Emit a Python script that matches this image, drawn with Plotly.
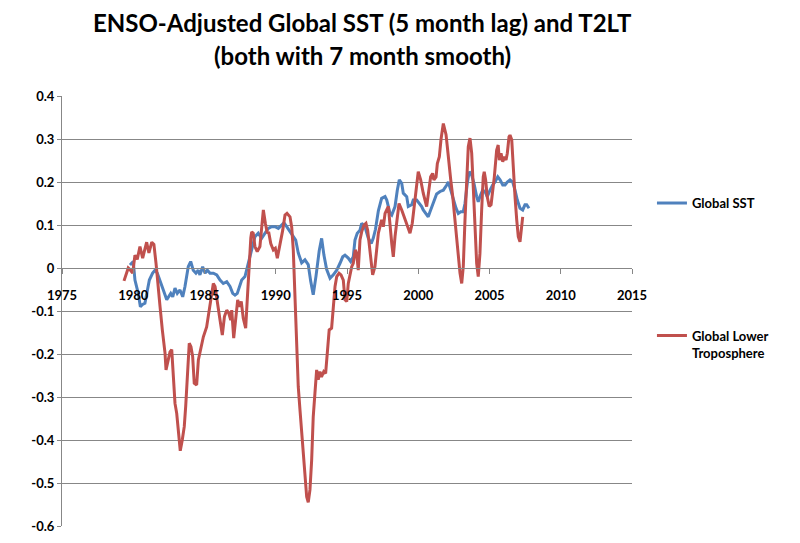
import plotly.graph_objects as go

TITLE_LINE1 = "ENSO-Adjusted Global SST (5 month lag) and T2LT"
TITLE_LINE2 = "(both with 7 month smooth)"

SST_NAME = "Global SST"
T2LT_NAME = "Global Lower<br>Troposphere"

SST_YEARS = [
    1979.77, 1980.00, 1980.12, 1980.35, 1980.50, 1980.65, 1980.82, 1980.94, 1981.13, 1981.36,
    1981.53, 1981.69, 1981.88, 1982.11, 1982.35, 1982.46, 1982.63, 1982.77, 1982.93, 1983.09,
    1983.28, 1983.47, 1983.63, 1983.86, 1984.03, 1984.21, 1984.40, 1984.56, 1984.68, 1984.87,
    1985.04, 1985.20, 1985.39, 1985.62, 1985.86, 1986.09, 1986.32, 1986.56, 1986.79, 1986.98,
    1987.14, 1987.30, 1987.44, 1987.61, 1987.84, 1988.00, 1988.19, 1988.38, 1988.54, 1988.77,
    1989.01, 1989.25, 1989.48, 1989.71, 1989.95, 1990.18, 1990.42, 1990.58, 1990.77, 1991.00,
    1991.23, 1991.40, 1991.58, 1991.82, 1992.05, 1992.28, 1992.45, 1992.63, 1992.82, 1993.05,
    1993.22, 1993.38, 1993.57, 1993.81, 1994.04, 1994.28, 1994.51, 1994.70, 1994.86, 1995.09,
    1995.26, 1995.44, 1995.56, 1995.72, 1995.91, 1996.03, 1996.26, 1996.49, 1996.70, 1996.84,
    1997.00, 1997.20, 1997.43, 1997.67, 1997.79, 1998.02, 1998.14, 1998.37, 1998.53, 1998.67,
    1998.84, 1998.95, 1999.19, 1999.30, 1999.54, 1999.65, 1999.89, 2000.07, 2000.24, 2000.35,
    2000.54, 2000.70, 2000.82, 2001.06, 2001.29, 2001.53, 2001.76, 2002.00, 2002.11, 2002.28,
    2002.46, 2002.65, 2002.81, 2002.98, 2003.16, 2003.28, 2003.44, 2003.58, 2003.75, 2003.91,
    2004.10, 2004.21, 2004.33, 2004.52, 2004.68, 2004.84, 2005.04, 2005.22, 2005.39, 2005.58,
    2005.74, 2005.93, 2006.09, 2006.25, 2006.44, 2006.63, 2006.79, 2006.95, 2007.14, 2007.33,
    2007.49, 2007.61, 2007.77,
]
SST_VALUES = [
    0.007, 0.015, -0.028, -0.059, -0.090, -0.085, -0.082, -0.059, -0.028, -0.012,
    -0.005, -0.012, -0.028, -0.051, -0.074, -0.067, -0.059, -0.067, -0.047, -0.059,
    -0.051, -0.067, -0.043, 0.003, 0.015, -0.005, -0.012, -0.005, -0.016, 0.003,
    -0.012, -0.005, -0.012, -0.012, -0.016, -0.028, -0.036, -0.032, -0.043, -0.059,
    -0.063, -0.059, -0.043, -0.028, -0.020, 0.003, 0.026, 0.057, 0.073, 0.081,
    0.069, 0.081, 0.092, 0.096, 0.096, 0.092, 0.100, 0.105, 0.096, 0.084,
    0.075, 0.065, 0.035, 0.012, 0.019, 0.008, -0.030, -0.062, -0.020, 0.040,
    0.069, 0.030, -0.003, -0.024, -0.016, -0.005, 0.011, 0.026, 0.030, 0.023,
    0.015, 0.026, 0.065, 0.081, 0.088, 0.104, 0.096, 0.070, 0.057, 0.069,
    0.090, 0.133, 0.162, 0.166, 0.158, 0.127, 0.123, 0.143, 0.181, 0.205,
    0.197, 0.174, 0.166, 0.143, 0.147, 0.158, 0.158, 0.150, 0.143, 0.135,
    0.127, 0.119, 0.130, 0.150, 0.172, 0.178, 0.181, 0.193, 0.200, 0.181,
    0.158, 0.139, 0.127, 0.131, 0.131, 0.150, 0.197, 0.224, 0.216, 0.197,
    0.166, 0.154, 0.166, 0.181, 0.178, 0.166, 0.181, 0.193, 0.200, 0.212,
    0.205, 0.193, 0.193, 0.200, 0.205, 0.200, 0.181, 0.158, 0.139, 0.135,
    0.147, 0.147, 0.139,
]

T2LT_YEARS = [
    1979.35, 1979.65, 1979.75, 1979.96, 1980.12, 1980.28, 1980.47, 1980.66, 1980.94, 1981.10,
    1981.30, 1981.45, 1981.60, 1981.75, 1981.88, 1982.04, 1982.23, 1982.30, 1982.46, 1982.58,
    1982.70, 1982.81, 1982.93, 1983.05, 1983.16, 1983.30, 1983.44, 1983.58, 1983.68, 1983.82,
    1983.93, 1984.05, 1984.17, 1984.28, 1984.45, 1984.57, 1984.68, 1984.92, 1985.15, 1985.33,
    1985.50, 1985.62, 1985.74, 1985.90, 1986.09, 1986.25, 1986.40, 1986.56, 1986.70, 1986.84,
    1986.91, 1987.05, 1987.19, 1987.33, 1987.44, 1987.58, 1987.72, 1987.89, 1988.00, 1988.10,
    1988.15, 1988.25, 1988.31, 1988.42, 1988.54, 1988.70, 1988.89, 1989.04, 1989.13, 1989.27,
    1989.41, 1989.50, 1989.65, 1989.83, 1989.97, 1990.11, 1990.23, 1990.37, 1990.49, 1990.65,
    1990.79, 1991.00, 1991.12, 1991.23, 1991.35, 1991.47, 1991.58, 1991.70, 1991.82, 1991.93,
    1992.05, 1992.17, 1992.28, 1992.40, 1992.52, 1992.63, 1992.75, 1992.87, 1992.98, 1993.10,
    1993.21, 1993.37, 1993.50, 1993.61, 1993.75, 1993.92, 1994.04, 1994.16, 1994.28, 1994.44,
    1994.58, 1994.74, 1994.86, 1994.98, 1995.09, 1995.21, 1995.33, 1995.44, 1995.58, 1995.68,
    1995.79, 1995.91, 1996.03, 1996.19, 1996.33, 1996.45, 1996.61, 1996.80, 1996.96, 1997.08,
    1997.20, 1997.43, 1997.55, 1997.67, 1997.90, 1998.14, 1998.25, 1998.37, 1998.49, 1998.65,
    1998.84, 1999.07, 1999.30, 1999.42, 1999.58, 1999.77, 2000.00, 2000.17, 2000.35, 2000.59,
    2000.70, 2000.87, 2001.01, 2001.10, 2001.25, 2001.34, 2001.48, 2001.60, 2001.76, 2001.95,
    2002.04, 2002.16, 2002.28, 2002.42, 2002.58, 2002.70, 2002.81, 2002.93, 2003.05, 2003.16,
    2003.28, 2003.40, 2003.51, 2003.63, 2003.75, 2003.86, 2003.98, 2004.10, 2004.21, 2004.33,
    2004.45, 2004.56, 2004.63, 2004.73, 2004.84, 2004.98, 2005.11, 2005.22, 2005.34, 2005.50,
    2005.61, 2005.69, 2005.81, 2005.93, 2006.02, 2006.16, 2006.25, 2006.37, 2006.44, 2006.56,
    2006.67, 2006.79, 2006.91, 2007.02, 2007.14, 2007.26, 2007.33,
]
T2LT_VALUES = [
    -0.030, 0.000, -0.003, -0.012, 0.030, 0.020, 0.050, 0.023, 0.060, 0.035,
    0.060, 0.055, 0.010, -0.050, -0.090, -0.144, -0.198, -0.237, -0.214, -0.195,
    -0.190, -0.253, -0.315, -0.338, -0.385, -0.425, -0.400, -0.369, -0.322, -0.230,
    -0.175, -0.183, -0.206, -0.268, -0.272, -0.214, -0.198, -0.160, -0.137, -0.098,
    -0.059, -0.036, -0.043, -0.074, -0.121, -0.156, -0.113, -0.098, -0.105, -0.121,
    -0.098, -0.163, -0.121, -0.074, -0.090, -0.078, -0.117, -0.140, -0.074, -0.012,
    0.020, 0.070, 0.084, 0.081, 0.050, 0.038, 0.050, 0.112, 0.135, 0.104,
    0.081, 0.084, 0.057, 0.042, 0.046, 0.023, 0.042, 0.061, 0.088, 0.123,
    0.127, 0.119, 0.095, 0.042, -0.074, -0.190, -0.276, -0.330, -0.384, -0.447,
    -0.500, -0.532, -0.545, -0.516, -0.447, -0.346, -0.291, -0.237, -0.260, -0.241,
    -0.253, -0.241, -0.245, -0.198, -0.144, -0.140, -0.090, -0.043, -0.020, -0.012,
    -0.016, -0.028, -0.074, -0.078, -0.036, -0.012, 0.003, 0.011, 0.042, 0.034,
    -0.005, 0.065, 0.084, 0.100, 0.104, 0.088, 0.034, -0.016, 0.003, 0.042,
    0.081, 0.112, 0.096, 0.127, 0.143, 0.057, 0.026, 0.073, 0.112, 0.150,
    0.135, 0.112, 0.088, 0.081, 0.104, 0.166, 0.224, 0.205, 0.174, 0.143,
    0.174, 0.212, 0.220, 0.205, 0.212, 0.243, 0.259, 0.300, 0.336, 0.310,
    0.282, 0.236, 0.205, 0.166, 0.112, 0.057, 0.026, -0.012, -0.036, 0.003,
    0.112, 0.212, 0.282, 0.302, 0.267, 0.189, 0.096, 0.011, -0.020, 0.034,
    0.135, 0.212, 0.224, 0.205, 0.166, 0.143, 0.147, 0.174, 0.212, 0.274,
    0.286, 0.251, 0.267, 0.247, 0.259, 0.251, 0.267, 0.305, 0.309, 0.298,
    0.220, 0.166, 0.112, 0.073, 0.061, 0.096, 0.119,
]

X_TICKS = [1975, 1980, 1985, 1990, 1995, 2000, 2005, 2010, 2015]
Y_TICKS = [0.4, 0.3, 0.2, 0.1, 0, -0.1, -0.2, -0.3, -0.4, -0.5, -0.6]
Y_TICK_TEXT = ["0.4", "0.3", "0.2", "0.1", "0", "-0.1", "-0.2", "-0.3", "-0.4", "-0.5", "-0.6"]

BLUE = "#4F81BD"
RED = "#C0504D"
GRID = "#878787"
FONT = "Lato, 'Open Sans', sans-serif"

fig = go.Figure()
fig.add_trace(go.Scatter(x=SST_YEARS, y=SST_VALUES, mode="lines", name=SST_NAME,
                         showlegend=True,
                         line=dict(color=BLUE, width=3), legend="legend"))
fig.add_trace(go.Scatter(x=T2LT_YEARS, y=T2LT_VALUES, mode="lines", name=T2LT_NAME,
                         showlegend=True,
                         line=dict(color=RED, width=3), legend="legend2"))

fig.update_layout(
    width=792, height=535,
    showlegend=True,
    margin=dict(l=54, r=168, t=88, b=17, autoexpand=False),
    paper_bgcolor="white", plot_bgcolor="white",
    font=dict(family=FONT, color="black"),
    xaxis=dict(range=[1975, 2015], tickvals=X_TICKS, showgrid=False, zeroline=False,
               showline=True, linecolor=GRID, linewidth=1,
               anchor="free", position=0.6, automargin=False,
               ticks="outside", ticklen=5, tickcolor=GRID,
               ticklabelstandoff=10,
               tickfont=dict(family=FONT, size=13, weight="bold", color="black")),
    yaxis=dict(range=[-0.6, 0.4], tickvals=Y_TICKS, ticktext=Y_TICK_TEXT,
               showgrid=True, gridcolor=GRID, gridwidth=1, zeroline=False,
               showline=True, linecolor=GRID, linewidth=1, automargin=False,
               ticks="outside", ticklen=4, tickcolor=GRID,
               tickfont=dict(family=FONT, size=13, weight="bold", color="black")),
    legend=dict(x=1.035, xanchor="left", y=0.751, yanchor="middle",
                bgcolor="rgba(0,0,0,0)", font=dict(family=FONT, size=13, weight="bold")),
    legend2=dict(x=1.035, xanchor="left", y=0.423, yanchor="middle", valign="top",
                 bgcolor="rgba(0,0,0,0)", font=dict(family=FONT, size=13, weight="bold")),
    annotations=[
        dict(text=TITLE_LINE1, xref="paper", yref="paper", x=0.527, y=1.1698,
             xanchor="center", yanchor="middle", showarrow=False, borderpad=0,
             font=dict(family=FONT, size=24, weight="bold", color="black")),
        dict(text=TITLE_LINE2, xref="paper", yref="paper", x=0.527, y=1.0953,
             xanchor="center", yanchor="middle", showarrow=False, borderpad=0,
             font=dict(family=FONT, size=24, weight="bold", color="black")),
    ],
)

fig.write_html("out.html")
